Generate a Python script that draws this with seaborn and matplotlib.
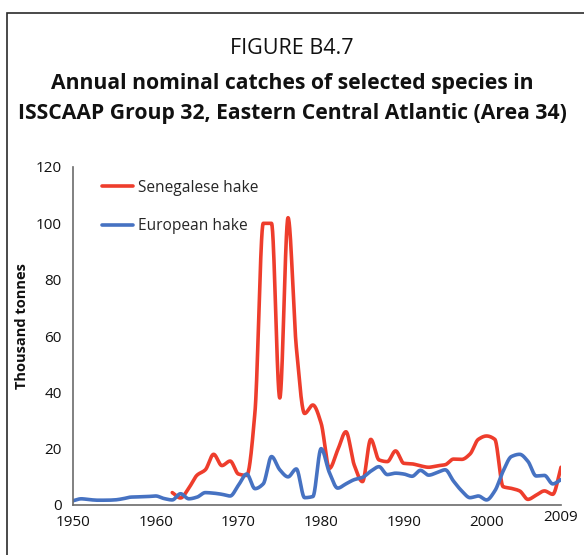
import numpy as np
import pandas as pd
import matplotlib
matplotlib.use("Agg")
import matplotlib.pyplot as plt
import seaborn as sns
from matplotlib.patches import Rectangle
from matplotlib.transforms import ScaledTranslation

# Annual nominal catches, thousand tonnes
years_european = list(range(1950, 2010))
european_hake = [
    1.5, 2.2, 1.9, 1.7, 1.7, 1.8, 2.2, 2.8, 2.9, 3.0,
    3.2, 2.3, 1.8, 4.0, 2.2, 2.8, 4.4, 4.2, 3.8, 3.2,
    7.0, 11.0, 5.8, 7.5, 17.2, 12.5, 10.0, 12.8, 2.6, 3.0,
    20.0, 11.5, 6.0, 7.5, 9.0, 9.8, 12.0, 13.6, 10.8, 11.3,
    11.0, 10.2, 12.3, 10.6, 11.5, 12.5, 8.5, 5.0, 2.6, 3.2,
    1.8, 5.0, 12.0, 17.2, 18.0, 15.5, 10.3, 10.5, 7.5, 9.0,
]
years_senegalese = list(range(1962, 2010))
senegalese_hake = [
    4.4, 2.5, 6.0, 10.6, 12.5, 18.0, 14.0, 15.6,
    11.0, 10.5, 33.0, 100.0, 100.0, 38.0, 102.0, 56.0, 32.5, 35.5,
    29.0, 13.0, 19.5, 26.0, 14.2, 8.3, 23.3, 16.0, 15.4, 19.2,
    14.8, 14.6, 13.9, 13.4, 13.9, 14.3, 16.3, 16.2, 18.1, 23.3,
    24.5, 23.3, 6.5, 5.9, 5.0, 2.0, 3.5, 5.0, 3.8, 13.4,
]
species = ["Senegalese hake", "European hake"]
colors = {"Senegalese hake": "#EE3D2C", "European hake": "#4672C2"}
x_ticks = [1950, 1960, 1970, 1980, 1990, 2000, 2009]
y_ticks = [0, 20, 40, 60, 80, 100, 120]


def smooth_line(xs, ys, steps=30):
    """Monotone cubic (Fritsch-Carlson) path through the yearly values."""
    x = np.asarray(xs, float)
    y = np.asarray(ys, float)
    h = np.diff(x)
    d = np.diff(y) / h
    m = np.empty_like(y)
    m[0], m[-1] = d[0], d[-1]
    for k in range(1, len(x) - 1):
        if d[k - 1] * d[k] <= 0:
            m[k] = 0.0
        else:
            w1 = 2 * h[k] + h[k - 1]
            w2 = h[k] + 2 * h[k - 1]
            m[k] = (w1 + w2) / (w1 / d[k - 1] + w2 / d[k])
    t = np.linspace(0, 1, steps, endpoint=False)
    h00 = 2 * t ** 3 - 3 * t ** 2 + 1
    h10 = t ** 3 - 2 * t ** 2 + t
    h01 = -2 * t ** 3 + 3 * t ** 2
    h11 = t ** 3 - t ** 2
    px, py = [], []
    for i in range(len(x) - 1):
        px.append(x[i] + t * h[i])
        py.append(h00 * y[i] + h10 * h[i] * m[i] + h01 * y[i + 1] + h11 * h[i] * m[i + 1])
    px.append(x[-1:])
    py.append(y[-1:])
    return np.concatenate(px), np.concatenate(py)


frames = []
for name, xs, ys in [("Senegalese hake", years_senegalese, senegalese_hake),
                     ("European hake", years_european, european_hake)]:
    sx, sy = smooth_line(xs, ys)
    frames.append(pd.DataFrame({"year": sx, "catch": sy, "species": name}))
df = pd.concat(frames, ignore_index=True)

sns.set_theme(style="white")
plt.rcParams["font.family"] = ["Open Sans", "DejaVu Sans"]

fig = plt.figure(figsize=(5.84, 5.55), dpi=100)
ax = fig.add_axes([73 / 584, 1 - 505 / 555, 488 / 584, 338 / 555])

sns.lineplot(data=df, x="year", y="catch", hue="species", hue_order=species,
             palette=colors, linewidth=2.6, estimator=None, sort=False,
             units="species", ax=ax)
for ln in ax.lines:
    ln.set_solid_capstyle("round")
    ln.set_solid_joinstyle("round")

ax.set_xlim(1950, 2009)
ax.set_ylim(0, 120)
ax.set_xticks(x_ticks)
ax.set_xticklabels([str(v) for v in x_ticks])
ax.set_yticks(y_ticks)
ax.set_yticklabels([str(v) for v in y_ticks])
ax.set_xlabel("")
ax.set_ylabel("")

for side in ("top", "right"):
    ax.spines[side].set_visible(False)
for side in ("left", "bottom"):
    ax.spines[side].set_color("#6b6b6b")
    ax.spines[side].set_linewidth(1.2)
ax.tick_params(axis="both", which="major", labelsize=11, colors="#6b6b6b",
               labelcolor="#111111", width=1.0, direction="out", pad=3)
ax.tick_params(axis="y", length=5)
ax.tick_params(axis="x", length=4)

# last year label sits a little higher than the decade labels
last = ax.xaxis.get_major_ticks()[-1].label1
last.set_transform(last.get_transform() + ScaledTranslation(0, 5 / 100, fig.dpi_scale_trans))

sns.move_legend(ax, "upper left", bbox_to_anchor=(0.06, 0.962), frameon=False,
                title=None, fontsize=11.2, handlelength=1.95, handletextpad=0.35,
                labelspacing=1.45, borderpad=0, borderaxespad=0)
for h in ax.get_legend().get_lines():
    h.set_linewidth(2.6)

fig.text(22 / 584, 1 - 326 / 555, "Thousand tonnes", rotation=90, ha="center",
         va="center", fontsize=10.5, fontweight="bold", color="#111111")

fig.text(0.5, 1 - 48 / 555, "FIGURE B4.7", ha="center", va="center",
         fontsize=15.5, color="#111111")
fig.text(0.5, 1 - 83 / 555, "Annual nominal catches of selected species in",
         ha="center", va="center", fontsize=15.2, fontweight="bold", color="#111111")
fig.text(0.5, 1 - 113 / 555, "ISSCAAP Group 32, Eastern Central Atlantic (Area 34)",
         ha="center", va="center", fontsize=15.2, fontweight="bold", color="#111111")

fig.patches.append(Rectangle((6.5 / 584, -0.1), 1.2, 1 - 12.5 / 555 + 0.1,
                             transform=fig.transFigure, fill=False,
                             edgecolor="#2b2b2b", linewidth=1.2))

fig.savefig("out.png", dpi=100)
